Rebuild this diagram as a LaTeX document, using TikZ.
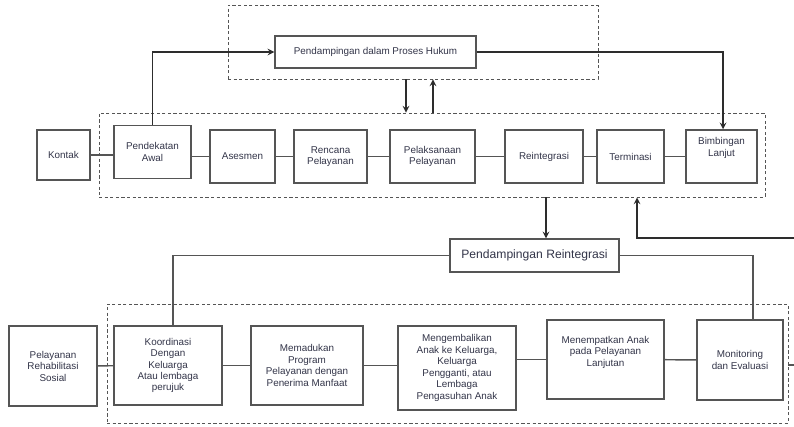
\documentclass[tikz,border=0pt]{standalone}
\usepackage{fontspec}
\setmainfont{Liberation Sans}
\usepackage{tikz}
\usetikzlibrary{arrows}
\definecolor{boxline}{RGB}{85,85,85}
\definecolor{arrowline}{RGB}{45,45,45}
\definecolor{boxtext}{RGB}{50,52,72}

\begin{document}
\begin{tikzpicture}[x=0.75pt,y=-0.75pt,
        box/.style={draw=boxline, line width=1.1pt, align=center, text=boxtext, inner sep=1pt,
                font=\fontsize{7.4}{8.6}\selectfont},
        group/.style={draw=boxline, dashed, dash pattern=on 2.4pt off 1.8pt, line width=0.7pt, inner sep=0pt}]
        \useasboundingbox (0,0) rectangle (794,426);
                % kelompok tahapan
                \node[group, minimum width=277.5pt, minimum height=55.5pt] (grpTop) at (413,42) {};
                \node[group, minimum width=499.5pt, minimum height=63pt] (grpMid) at (432,155) {};
                \node[group, minimum width=510.75pt, minimum height=89.25pt] (grpBot) at (447.5,363.5) {};
                \begin{scope}[every node/.style={box}]
                        \node[minimum width=150.75pt, minimum height=24pt] (proses) at (375.5,52) {Pendampingan dalam Proses Hukum};
                        \node[minimum width=39.75pt, minimum height=37.5pt] (kontak) at (63.5,155) {Kontak};
                        \node[minimum width=57.75pt, minimum height=39.75pt] (awal) at (152.5,152) {Pendekatan\\Awal};
                        \node[minimum width=48.75pt, minimum height=39.75pt] (asesmen) at (242.5,156.5) {Asesmen};
                        \node[minimum width=54.75pt, minimum height=39.75pt] (rencana) at (330.5,156.5) {Rencana\\Pelayanan};
                        \node[minimum width=63.75pt, minimum height=39.75pt] (laksana) at (432.5,156.5) {Pelaksanaan\\Pelayanan};
                        \node[minimum width=58.5pt, minimum height=39.75pt] (reint) at (544,156.5) {Reintegrasi};
                        \node[minimum width=50.25pt, minimum height=39.75pt] (termin) at (630.5,156.5) {Terminasi};
                        \node[minimum width=53.25pt, minimum height=39.75pt] (bimbing) at (721.5,156.5) {Bimbingan\\Lanjut\\[6pt]};
                        \node[minimum width=126.75pt, minimum height=24.75pt, font=\fontsize{9.1}{11}\selectfont] (pendRe) at (534.5,255.5) {Pendampingan Reintegrasi};
                        \node[minimum width=66pt, minimum height=60pt] (rehab) at (53,366) {Pelayanan\\Rehabilitasi\\Sosial};
                        \node[minimum width=81pt, minimum height=59.25pt] (koord) at (168,365.5) {Koordinasi\\Dengan\\Keluarga\\Atau lembaga\\perujuk};
                        \node[minimum width=84pt, minimum height=59.25pt] (padu) at (307,365.5) {Memadukan\\Program\\Pelayanan dengan\\Penerima Manfaat};
                        \node[minimum width=88.5pt, minimum height=63pt] (kembali) at (457,368) {Mengembalikan\\Anak ke Keluarga,\\Keluarga\\Pengganti, atau\\Lembaga\\Pengasuhan Anak};
                        \node[minimum width=87.75pt, minimum height=59.25pt] (tempat) at (605.5,359.5) {Menempatkan Anak\\pada Pelayanan\\Lanjutan\\[4pt]};
                        \node[minimum width=64.5pt, minimum height=60pt] (monitor) at (740,360) {Monitoring\\dan Evaluasi};
                \end{scope}
                % titik bantu
                \coordinate (dnX) at (406,0);
                \coordinate (upX) at (433,0);
                \coordinate (reX) at (546,0);
                \coordinate (sideIn) at (794,238);
                \coordinate (sideOut) at (794,365);
                \begin{scope}[every path/.style={draw=arrowline, line width=1.2pt, >=stealth}]
                        \draw[->] (awal.north) |- (proses.west);
                        \draw[->] (proses.east) -| ([xshift=1.2pt]bimbing.north);
                        \draw[->] (grpTop.south -| dnX) -- (grpMid.north -| dnX);
                        \draw[->] (grpMid.north -| upX) -- (grpTop.south -| upX);
                        \draw[->] (grpMid.south -| reX) -- (pendRe.north -| reX);
                        \draw[->] (sideIn) -| ([xshift=4.9pt]grpMid.south -| termin.south);
                \end{scope}
                \begin{scope}[every path/.style={draw=boxline, line width=1.1pt}]
                        \draw (pendRe.west) -| ([xshift=3.75pt]koord.north);
                        \draw (pendRe.east) -| ([xshift=9.75pt]monitor.north);
                        \draw (kontak.east) -- (kontak.east -| awal.west);
                        \draw (awal.east |- asesmen.west) -- (asesmen.west);
                        \draw (asesmen) -- (rencana);
                        \draw (rencana) -- (laksana);
                        \draw (laksana) -- (reint);
                        \draw (reint) -- (termin);
                        \draw (termin) -- (bimbing);
                        \draw (rehab) -- (koord);
                        \draw (koord) -- (padu);
                        \draw (padu.east) -- (padu.east -| kembali.west);
                        \draw (kembali.east |- tempat.west) -- (tempat.west);
                        \draw (tempat) -- (monitor);
                        \draw (grpBot.east |- sideOut) -- (sideOut);
               \end{scope}
        \end{tikzpicture}
\end{document}
